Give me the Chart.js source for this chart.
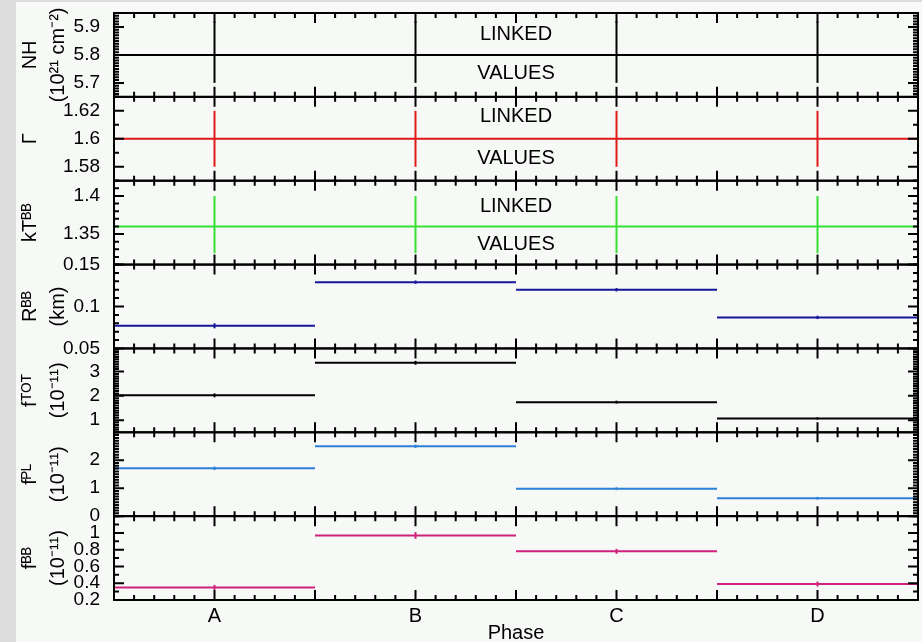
<!DOCTYPE html>
<html>
<head>
<meta charset="utf-8">
<script src="https://cdn.jsdelivr.net/npm/chart.js@4.4.0/dist/chart.umd.min.js"></script>
<style>
  html, body { margin: 0; padding: 0; background: #dcdcdc; }
  #wrap { position: relative; width: 922px; height: 642px; }
</style>
</head>
<body>
<div id="wrap"><canvas id="phase-chart" width="922" height="642"></canvas></div>
<script>
// Phase bins
const phases = ['A', 'B', 'C', 'D'];
const phaseCenters = [0.125, 0.375, 0.625, 0.875];
const binEdges = [0, 0.25, 0.5, 0.75, 1];

// Linked parameters (same value in every phase)
const nhValues = [5.8, 5.8, 5.8, 5.8];
const nhErrLo = [0.10, 0.10, 0.10, 0.10];
const nhErrHi = [0.12, 0.12, 0.12, 0.12];
const gammaValues = [1.6, 1.6, 1.6, 1.6];
const gammaErr = [0.02, 0.02, 0.02, 0.02];
const ktValues = [1.36, 1.36, 1.36, 1.36];
const ktErrLo = [0.035, 0.035, 0.035, 0.035];
const ktErrHi = [0.04, 0.04, 0.04, 0.04];

// Free parameters per phase
const rbbValues = [0.077, 0.129, 0.120, 0.087];
const rbbErr = [0.003, 0.002, 0.002, 0.002];
const ftotValues = [2.02, 3.36, 1.74, 1.07];
const ftotErr = [0.08, 0.08, 0.06, 0.05];
const fplValues = [1.71, 2.50, 0.98, 0.64];
const fplErr = [0.06, 0.06, 0.05, 0.05];
const fbbValues = [0.35, 0.97, 0.78, 0.39];
const fbbErr = [0.03, 0.04, 0.03, 0.03];

// Tick labels
const nhTicks = [5.7, 5.8, 5.9];
const gammaTicks = [1.58, 1.6, 1.62];
const ktTicks = [1.35, 1.4];
const rbbTicks = [0.05, 0.1, 0.15];
const ftotTicks = [1, 2, 3];
const fplTicks = [0, 1, 2];
const fbbTicks = [0.2, 0.4, 0.6, 0.8, 1];
const linkedText = ['LINKED', 'VALUES'];

Chart.defaults.font.family = "'Liberation Sans', Arial, sans-serif";

const panels = [
    { id: 'nh', title: ['NH', '(10²¹ cm⁻²)'], min: 5.65, max: 5.95, minor: 0.01, ticks: nhTicks,
      color: '#000000', values: nhValues, errLo: nhErrLo, errHi: nhErrHi, note: [0.26, 0.72] },
    { id: 'gamma', title: 'Γ', min: 1.57, max: 1.63, minor: 0.01, ticks: gammaTicks,
      color: '#e01818', values: gammaValues, errLo: gammaErr, errHi: gammaErr, note: [0.24, 0.73] },
    { id: 'kt', title: 'kTᴮᴮ', min: 1.31, max: 1.42, minor: 0.01, ticks: ktTicks,
      color: '#36e036', values: ktValues, errLo: ktErrLo, errHi: ktErrHi, note: [0.31, 0.76] },
    { id: 'rbb', title: ['Rᴮᴮ', '(km)'], min: 0.05, max: 0.15, minor: 0.01, ticks: rbbTicks,
      color: '#16169a', values: rbbValues, errLo: rbbErr, errHi: rbbErr },
    { id: 'ftot', title: ['fᵀᴼᵀ', '(10⁻¹¹)'], min: 0.5, max: 3.95, minor: 0.1, ticks: ftotTicks,
      color: '#000000', values: ftotValues, errLo: ftotErr, errHi: ftotErr },
    { id: 'fpl', title: ['fᴾᴸ', '(10⁻¹¹)'], min: 0, max: 3, minor: 0.1, ticks: fplTicks,
      color: '#2c80d8', values: fplValues, errLo: fplErr, errHi: fplErr },
    { id: 'fbb', title: ['fᴮᴮ', '(10⁻¹¹)'], min: 0.2, max: 1.2, minor: 0.1, ticks: fbbTicks,
      color: '#d0227c', values: fbbValues, errLo: fbbErr, errHi: fbbErr }
];

// one horizontal segment per phase bin, broken between bins
const stepData = (values) => {
    const pts = [];
    values.forEach((v, i) => {
        pts.push({ x: binEdges[i], y: v }, { x: binEdges[i + 1], y: v });
        if (i < values.length - 1) pts.push({ x: binEdges[i + 1], y: null });
    });
    return pts;
};

// no extra room for half labels at the ends of the axes
const noPadding = (s) => {
    s.paddingTop = 0; s.paddingBottom = 0; s.paddingLeft = 0; s.paddingRight = 0;
};

const scales = {
    x: {
        type: 'linear', position: 'bottom', min: 0, max: 1,
        grid: { display: false, drawTicks: false }, border: { display: false },
        afterBuildTicks: (s) => { s.ticks = phaseCenters.map((v) => ({ value: v })); },
        afterFit: (s) => { s.height = 42; noPadding(s); },
        ticks: { autoSkip: false, maxRotation: 0, padding: 4, color: '#000', font: { size: 20 },
                 callback: (v, i) => phases[i] },
        title: { display: true, text: 'Phase', color: '#000', font: { size: 20, lineHeight: 0.9 }, padding: 0 }
    }
};

panels.forEach((p, i) => {
    scales[p.id] = {
        type: 'linear', position: 'left', stack: 'panels', stackWeight: 1, weight: panels.length - i,
        min: p.min, max: p.max,
        grid: { display: false, drawTicks: false }, border: { display: false },
        afterBuildTicks: (s) => { s.ticks = p.ticks.map((v) => ({ value: v })); },
        afterFit: (s) => { s.width = 98; noPadding(s); },
        ticks: { autoSkip: false, padding: 14, color: '#000', font: { size: 19 }, callback: (v) => String(v) },
        title: { display: true, text: p.title, color: '#000', font: { size: 20, lineHeight: 1.4 }, padding: 0 }
    };
});

const datasets = panels.map((p) => ({
    label: p.id,
    yAxisID: p.id,
    data: stepData(p.values),
    borderColor: p.color,
    borderWidth: 2,
    pointRadius: 0,
    tension: 0,
    spanGaps: false,
    clip: false
}));

const panelPlugin = {
    id: 'panelPlugin',
    beforeDraw(chart) {
        const ctx = chart.ctx;
        ctx.save();
        ctx.fillStyle = '#dcdcdc';
        ctx.fillRect(0, 0, chart.width, chart.height);
        ctx.fillStyle = '#f6f9f6';
        ctx.fillRect(16, 2, chart.width - 16, chart.height - 2);
        ctx.restore();
    },
    afterDatasetsDraw(chart) {
        const ctx = chart.ctx;
        const xs = chart.scales.x;
        ctx.save();
        ctx.lineWidth = 2;
        panels.forEach((p) => {
            const s = chart.scales[p.id];
            ctx.strokeStyle = p.color;
            p.values.forEach((v, i) => {
                const px = xs.getPixelForValue(phaseCenters[i]);
                ctx.beginPath();
                ctx.moveTo(px, s.getPixelForValue(v - p.errLo[i]));
                ctx.lineTo(px, s.getPixelForValue(v + p.errHi[i]));
                ctx.stroke();
            });
            if (p.note) {
                ctx.fillStyle = '#000';
                ctx.font = "20px 'Liberation Sans', Arial, sans-serif";
                ctx.textAlign = 'center';
                ctx.textBaseline = 'middle';
                const cx = xs.getPixelForValue(0.5);
                linkedText.forEach((t, k) => {
                    ctx.fillText(t, cx, s.top + (s.bottom - s.top) * p.note[k]);
                });
            }
        });
        ctx.restore();
    },
    afterDraw(chart) {
        const ctx = chart.ctx;
        const xs = chart.scales.x;
        const left = chart.chartArea.left;
        const right = chart.chartArea.right;
        ctx.save();
        ctx.strokeStyle = '#000';
        ctx.lineWidth = 2;
        panels.forEach((p) => {
            const s = chart.scales[p.id];
            ctx.strokeRect(left, s.top, right - left, s.bottom - s.top);
            ctx.beginPath();
            // x ticks on top and bottom of each panel
            for (let k = 0; k <= 40; k++) {
                const px = xs.getPixelForValue(k * 0.025);
                const len = k % 5 === 0 ? 10 : 5;
                ctx.moveTo(px, s.top); ctx.lineTo(px, s.top + len);
                ctx.moveTo(px, s.bottom); ctx.lineTo(px, s.bottom - len);
            }
            // y ticks on both sides
            const k0 = Math.ceil(p.min / p.minor - 1e-6);
            const k1 = Math.floor(p.max / p.minor + 1e-6);
            for (let k = k0; k <= k1; k++) {
                const v = k * p.minor;
                const major = p.ticks.some((t) => Math.abs(t - v) < p.minor / 10);
                const len = major ? 10 : 5;
                const py = s.getPixelForValue(v);
                ctx.moveTo(left, py); ctx.lineTo(left + len, py);
                ctx.moveTo(right, py); ctx.lineTo(right - len, py);
            }
            ctx.stroke();
        });
        ctx.restore();
    }
};

new Chart(document.getElementById('phase-chart'), {
    type: 'line',
    data: { datasets },
    options: {
        responsive: false,
        animation: false,
        devicePixelRatio: 1,
        layout: { padding: { top: 13, right: 4, left: 16, bottom: 0 } },
        plugins: { legend: { display: false }, tooltip: { enabled: false } },
        scales
    },
    plugins: [panelPlugin]
});
</script>
</body>
</html>
